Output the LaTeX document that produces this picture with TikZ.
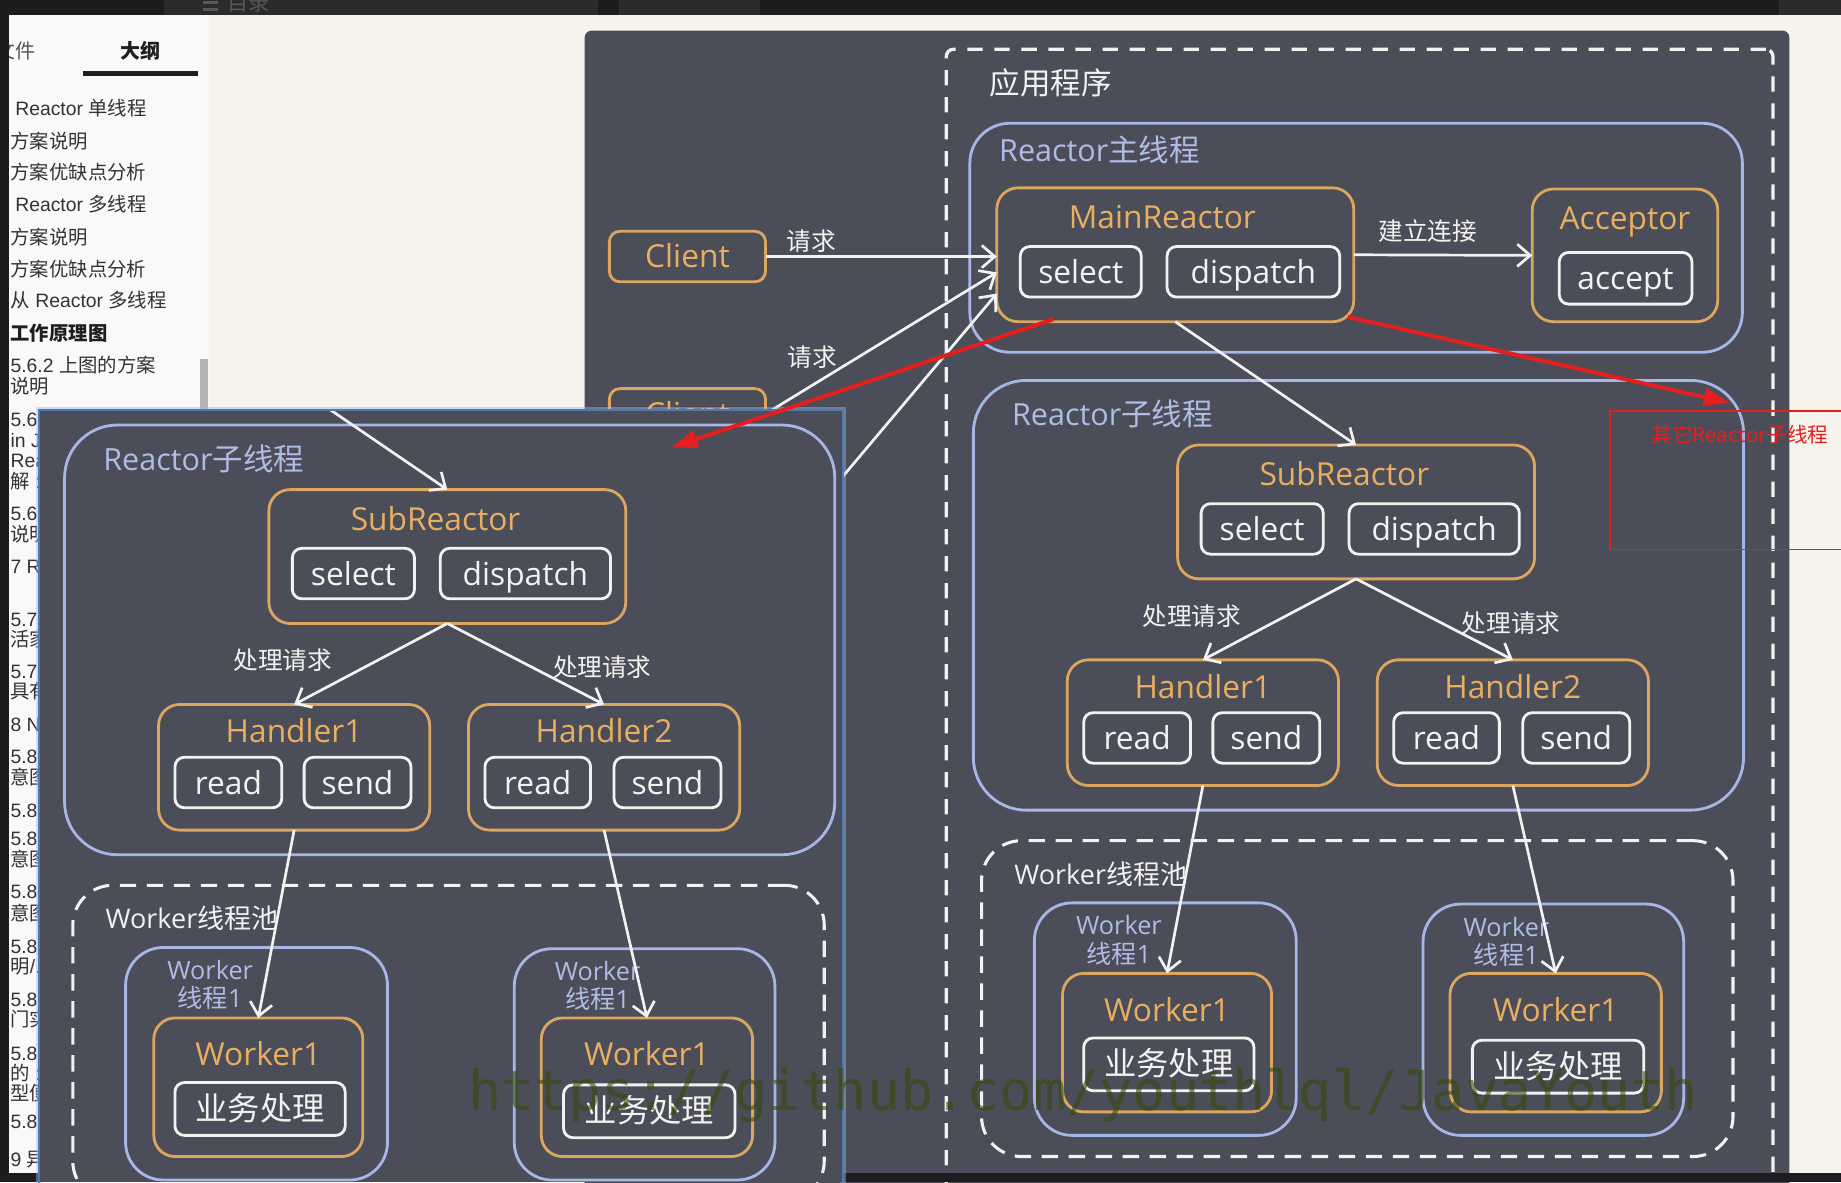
\documentclass[tikz,border=0pt]{standalone}
\usepackage{fontspec}
\setmainfont{Open Sans}
\newfontfamily\cjk{Noto Sans CJK SC}
\newfontfamily\lsans{Liberation Sans}
\newfontfamily\wmono{DejaVu Sans Mono}
\usetikzlibrary{arrows.meta,calc}

\definecolor{pagebg}{HTML}{1D1D1F}
\definecolor{barlite}{HTML}{2B2B2D}
\definecolor{chrometext}{HTML}{58585A}
\definecolor{sidebg}{HTML}{F9F9F9}
\definecolor{beige}{HTML}{F6F3EC}
\definecolor{panel}{HTML}{4B4D58}
\definecolor{lineblue}{HTML}{A6B6E6}
\definecolor{textblue}{HTML}{AEBCE6}
\definecolor{lineorange}{HTML}{DBA660}
\definecolor{textorange}{HTML}{E8AE62}
\definecolor{lightw}{HTML}{F2F2F2}
\definecolor{redmark}{HTML}{E3201F}
\definecolor{wmgreen}{HTML}{344A08}
\definecolor{sidetext}{HTML}{333333}
\definecolor{sidedark}{HTML}{1E1E1E}
\definecolor{sidesoft}{HTML}{555555}
\definecolor{sidegrey}{HTML}{B4B4B4}
\definecolor{ovedge}{HTML}{5078B4}
\definecolor{ovglow}{HTML}{9DBDE8}

\tikzset{
  tbox/.style={inner sep=0pt, outer sep=0pt},
  bluebox/.style={tbox, draw=lineblue, line width=2.4pt, rounded corners=45pt},
  orbox/.style={tbox, draw=lineorange, line width=2.4pt, rounded corners=18pt},
  clientbox/.style={tbox, draw=lineorange, line width=2.4pt, rounded corners=9pt,
    text=textorange, font=\fontsize{27}{30}\selectfont, text height=25pt, text depth=5.5pt},
  wbox/.style={tbox, draw=lightw, line width=2.4pt, rounded corners=8pt, text=lightw,
    font=\fontsize{27}{30}\selectfont, text height=25pt, text depth=5.5pt},
  bizbox/.style={wbox, font=\cjk\fontsize{27.5}{30}\selectfont},
  pool/.style={tbox, draw=lightw, line width=2.6pt, dash pattern=on 14pt off 9pt, rounded corners=34pt},
  appframe/.style={tbox, draw=lightw, line width=2.8pt, dash pattern=on 13pt off 10pt, rounded corners=6pt},
  ortitle/.style={tbox, text=textorange, font=\fontsize{27}{30}\selectfont, text height=25pt, text depth=5.5pt},
  bltitle/.style={tbox, anchor=west, text=textblue, font=\fontsize{26}{30}\selectfont, text height=24.5pt, text depth=5pt},
  thlabel/.style={tbox, align=center, text=textblue, font=\fontsize{21.5}{24}\selectfont},
  wlabel/.style={tbox, text=lightw, font=\cjk\fontsize{21}{24}\selectfont, text height=21pt, text depth=4pt},
  pooltitle/.style={tbox, anchor=west, text=lightw, font=\fontsize{23}{26}\selectfont, text height=22.5pt, text depth=4.5pt},
  flow/.style={draw=lightw, line width=2.3pt, -{Straight Barb[length=11pt,width=19pt]}},
  redarrow/.style={draw=redmark, line width=3.4pt, -{Triangle[length=22pt,width=15pt]}},
  sideitem/.style={tbox, anchor=west, text=sidetext, font=\lsans\fontsize{16.5}{19}\selectfont, text height=16pt, text depth=3.5pt},
}

% One Reactor sub-thread with its handlers and worker pool; #1 = name prefix, (#2,#3) = offset
\newcommand\subthread[3]{%
\begin{scope}[shift={(#2,#3)}]
  \node[bluebox, minimum width=656pt, minimum height=366pt] (#1rt) at (1157,507) {};
  \node[bltitle] (#1rtl) at (862,353) {Reactor{\cjk 子线程}};
  \node[orbox, minimum width=304pt, minimum height=114pt] (#1sr) at (1155,436) {};
  \node[ortitle] (#1srt) at (1145,404) {SubReactor};
  \node[wbox, minimum width=104pt, minimum height=43pt] (#1sel) at (1075,450.5) {select};
  \node[wbox, minimum width=145pt, minimum height=43pt] (#1dis) at (1221.5,450.5) {dispatch};
  \node[orbox, minimum width=231pt, minimum height=107pt] (#1ha) at (1024.5,615.5) {};
  \node[ortitle] (#1hat) at (1024.5,585) {Handler1};
  \node[wbox, minimum width=91pt, minimum height=43pt] (#1har) at (968.5,628.5) {read};
  \node[wbox, minimum width=91pt, minimum height=43pt] (#1has) at (1078.5,628.5) {send};
  \node[orbox, minimum width=231pt, minimum height=107pt] (#1hb) at (1288.5,615.5) {};
  \node[ortitle] (#1hbt) at (1288.5,585) {Handler2};
  \node[wbox, minimum width=90pt, minimum height=43pt] (#1hbr) at (1232,628.5) {read};
  \node[wbox, minimum width=91pt, minimum height=43pt] (#1hbs) at (1342.5,628.5) {send};
  \draw[flow] (#1sr.south) -- (#1ha.north);
  \draw[flow] (#1sr.south) -- (#1hb.north);
  \node[wlabel] (#1pa) at (1015,524) {处理请求};
  \node[wlabel] (#1pb) at (1287,530) {处理请求};
  \node[pool, minimum width=640pt, minimum height=269pt] (#1pool) at (1156,850.5) {};
  \node[pooltitle] (#1poolt) at (864,744) {Worker{\cjk 线程池}};
  \node[bluebox, rounded corners=32pt, minimum width=223pt, minimum height=198pt] (#1ta) at (992.5,868) {};
  \node[thlabel] (#1tal) at (953,801) {Worker\\{\cjk 线程}1};
  \node[bluebox, rounded corners=32pt, minimum width=222pt, minimum height=197pt] (#1tb) at (1323,868.5) {};
  \node[thlabel] (#1tbl) at (1283,802) {Worker\\{\cjk 线程}1};
  \node[orbox, minimum width=178pt, minimum height=118pt] (#1wa) at (994,888) {};
  \node[ortitle] (#1wat) at (994,860) {Worker1};
  \node[bizbox, minimum width=145pt, minimum height=45pt] (#1wab) at (995.5,906.5) {业务处理};
  \node[orbox, minimum width=180pt, minimum height=118pt] (#1wb) at (1325,888) {};
  \node[ortitle] (#1wbt) at (1325,860) {Worker1};
  \node[bizbox, minimum width=146pt, minimum height=45pt] (#1wbb) at (1327,908.5) {业务处理};
  \draw[flow] (#1ha.south) -- (#1wa.north);
  \draw[flow] (#1hb.south) -- (#1wb.north);
\end{scope}}

\begin{document}
\begin{tikzpicture}[x=1pt,y=-1pt]
\useasboundingbox (0,0) rectangle (1568,1007);
\clip (0,0) rectangle (1568,1007);

% window chrome
\fill[pagebg] (0,0) rectangle (1568,1007);
\fill[barlite] (140,0) rectangle (509,13);
\fill[barlite] (527,0) rectangle (647,13);
\fill[barlite] (1515,0) rectangle (1568,13);
\draw[chrometext, line width=2pt] (173,2) -- (186,2) (173,8) -- (186,8);
\node[tbox, anchor=west, text=chrometext, font=\cjk\fontsize{18}{20}\selectfont] (toc) at (194,3) {目录};

% outline sidebar
\fill[sidebg] (8,13) rectangle (178,999);
\node[tbox, anchor=west, text=sidesoft, font=\cjk\fontsize{17}{20}\selectfont] (tabfile) at (-4,43) {文件};
\node[tbox, anchor=west, text=sidedark, font=\cjk\bfseries\fontsize{17}{20}\selectfont] (tabnav) at (103,43) {大纲};
\fill[sidedark] (71,60.5) rectangle (169,65);
\node[sideitem] (s01) at (13,92) {Reactor {\cjk 单线程}};
\node[sideitem] (s02) at (9,120) {\cjk 方案说明};
\node[sideitem] (s03) at (9,147) {\cjk 方案优缺点分析};
\node[sideitem] (s04) at (13,174) {Reactor {\cjk 多线程}};
\node[sideitem] (s05) at (9,202) {\cjk 方案说明};
\node[sideitem] (s06) at (9,229) {\cjk 方案优缺点分析};
\node[sideitem] (s07) at (9,256) {{\cjk 从} Reactor {\cjk 多线程}};
\node[sideitem, text=sidedark] (s08) at (9,284) {\cjk\bfseries 工作原理图};
\node[sideitem] (s09) at (9,311) {5.6.2 {\cjk 上图的方案}};
\node[sideitem] (s10) at (9,329) {\cjk 说明};
\node[sideitem] (s11) at (9,357) {5.6};
\node[sideitem] (s12) at (9,375) {in J};
\node[sideitem] (s13) at (9,392) {Rea};
\node[sideitem] (s14) at (9,410) {{\cjk 解} :};
\node[sideitem] (s15) at (9,437) {5.6};
\node[sideitem] (s16) at (9,455) {\cjk 说明};
\node[sideitem] (s17) at (9,482) {7 R};
\node[sideitem] (s18) at (9,527) {5.7};
\node[sideitem] (s19) at (9,544) {\cjk 活家};
\node[sideitem] (s20) at (9,572) {5.7};
\node[sideitem] (s21) at (9,589) {\cjk 具有};
\node[sideitem] (s22) at (9,617) {8 N};
\node[sideitem] (s23) at (9,644) {5.8};
\node[sideitem] (s24) at (9,662) {\cjk 意图};
\node[sideitem] (s25) at (9,690) {5.8};
\node[sideitem] (s26) at (9,714) {5.8};
\node[sideitem] (s27) at (9,732) {\cjk 意图};
\node[sideitem] (s28) at (9,759) {5.8};
\node[sideitem] (s29) at (9,778) {\cjk 意图};
\node[sideitem] (s30) at (9,806) {5.8};
\node[sideitem] (s31) at (9,823) {{\cjk 明}/.};
\node[sideitem] (s32) at (9,851) {5.8};
\node[sideitem] (s33) at (9,868) {\cjk 门实};
\node[sideitem] (s34) at (9,897) {5.8};
\node[sideitem] (s35) at (9,914) {{\cjk 的} :};
\node[sideitem] (s36) at (9,931) {\cjk 型便};
\node[sideitem] (s37) at (9,955) {5.8};
\node[sideitem] (s38) at (9,987) {9 {\cjk 异}};
\fill[sidegrey] (170,306) rectangle (177,350);
\fill[pagebg] (0,0) rectangle (8,1007);

% document area and diagram panel
\fill[beige] (178,13) rectangle (1568,999);
\fill[panel, rounded corners=6pt] (498,26) rectangle (1524,1020);

% application frame
\node[appframe, minimum width=704pt, minimum height=1000pt] (app) at (1158,542) {};
\node[tbox, anchor=west, text=lightw, font=\cjk\fontsize{26}{30}\selectfont] (appl) at (843,71) {应用程序};

% main reactor thread
\node[bluebox, rounded corners=34pt, minimum width=658pt, minimum height=195pt] (mt) at (1155,202.5) {};
\node[bltitle] (mtl) at (851,128) {Reactor{\cjk 主线程}};
\node[orbox, minimum width=304pt, minimum height=114pt] (mr) at (1001,217) {};
\node[ortitle] (mrt) at (990,185) {MainReactor};
\node[wbox, minimum width=103pt, minimum height=43pt] (msel) at (920.5,231.5) {select};
\node[wbox, minimum width=147pt, minimum height=43pt] (mdis) at (1067.5,231.5) {dispatch};
\node[orbox, minimum width=158pt, minimum height=113pt] (acc) at (1384,217.5) {};
\node[ortitle] (acct) at (1384,186) {Acceptor};
\node[wbox, minimum width=113pt, minimum height=44pt] (acca) at (1384.5,237) {accept};

% clients
\node[clientbox, minimum width=133pt, minimum height=43pt] (cl1) at (585.5,218.5) {Client};
\node[clientbox, minimum width=133pt, minimum height=43pt] (cl2) at (585.5,352.5) {Client};
\coordinate (cl3) at (652,484);

% sub-reactor thread
\subthread{r-}{0}{0}

% connectors
\draw[flow] (cl1.east) -- (cl1.east -| mr.west);
\draw[flow] (cl2.east) -- ([yshift=-15pt]mr.west);
\draw[flow] (cl3) -- ([yshift=-33pt]mr.west);
\node[wlabel] (req1) at (691,205) {请求};
\node[wlabel] (req2) at (692,304) {请求};
\draw[flow] (mr.east) -- (acc.west);
\node[wlabel] (conn) at (1216,196) {建立连接};
\draw[flow] (mr.south) -- (r-sr.north);

% window bottom edge
\fill[pagebg] (0,999) rectangle (1568,1007);

% floating copy of the sub-reactor window
\draw[ovglow, opacity=0.45, line width=5pt] (33,349) rectangle (718,1012);
\coordinate (ovmr) at ($(mr.south)+(-774,38)$);
\begin{scope}
  \clip (33,349) rectangle (718,1007);
  \fill[panel] (33,349) rectangle (718,1007);
  \subthread{o-}{-774}{38}
  \draw[flow] (ovmr) -- (o-sr.north);
\end{scope}
\draw[ovedge, line width=1.3pt] (33,349) rectangle (718,1012);

% red annotations
\coordinate (redtgt1) at (572,381);
\coordinate (redtgt2) at (1473,343);
\draw[redarrow] ([xshift=48pt,yshift=2pt]mr.south west) -- (redtgt1);
\draw[redarrow] ([xshift=-5pt,yshift=4pt]mr.south east) -- (redtgt2);
\draw[redmark, line width=1.6pt] (1371,350) rectangle (1580,468);
\node[tbox, text=redmark, font=\cjk\fontsize{17.5}{20}\selectfont] (others) at (1482,370) {其它Reactor子线程};

% watermark
\node[tbox, anchor=base west, text=wmgreen, opacity=0.6, font=\wmono\fontsize{47}{50}\selectfont] (wm) at (399,946) {https://github.com/youthlql/JavaYouth};
\end{tikzpicture}
\end{document}
